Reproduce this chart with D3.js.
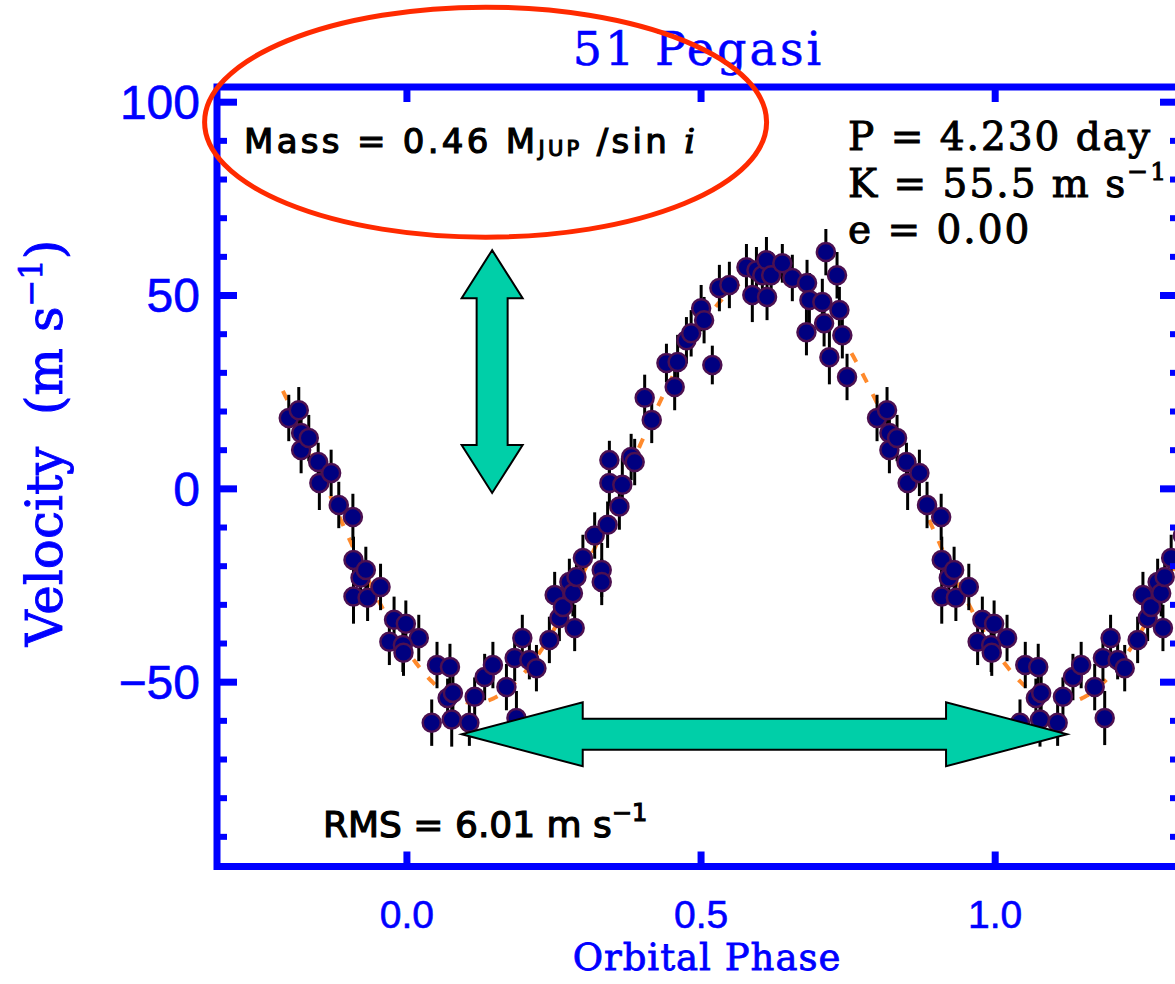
<!DOCTYPE html>
<html>
<head>
<meta charset="utf-8">
<script src="https://cdn.jsdelivr.net/npm/d3@7"></script>
<style>
  html, body { margin: 0; padding: 0; background: #ffffff; }
  svg { display: block; }
</style>
</head>
<body>
<svg id="chart" width="1175" height="984"></svg>
<script>
// 51 Pegasi radial velocities, folded on the orbital period (phase 0..1)
const phase = [
  0.021, 0.043, 0.052, 0.070, 0.074, 0.077, 0.079, 0.107, 0.116, 0.133,
  0.147, 0.170, 0.184, 0.187, 0.197, 0.209, 0.221, 0.243, 0.252, 0.260,
  0.266, 0.277, 0.283, 0.286, 0.289, 0.300, 0.320, 0.332, 0.332, 0.342,
  0.345, 0.345, 0.362, 0.367, 0.382, 0.388, 0.405, 0.417, 0.442, 0.456,
  0.461, 0.476, 0.484, 0.501, 0.506, 0.520, 0.532, 0.549, 0.578, 0.588,
  0.595, 0.605, 0.612, 0.613, 0.620, 0.639, 0.656, 0.680, 0.681, 0.685,
  0.707, 0.710, 0.713, 0.719, 0.732, 0.736, 0.741, 0.749, 0.800, 0.817,
  0.821, 0.821, 0.834, 0.850, 0.852, 0.872, 0.885, 0.909, 0.910, 0.910,
  0.922, 0.931, 0.934, 0.956, 0.971, 0.979, 0.994, 0.995, 0.999
];
const velocity = [
  -38.7, -60.6, -45.7, -54.2, -46.2, -59.8, -52.9, -60.6, -53.9, -48.8,
  -45.7, -51.4, -43.9, -59.4, -38.7, -44.4, -46.5, -39.2, -27.6, -33.5,
  -30.7, -24.2, -27.1, -36.1, -22.9, -18.0, -12.2, -21.1, -24.2, -9.4,
  1.4, 7.3, -4.7, 0.9, 8.1, 6.8, 23.4, 17.7, 32.4, 26.2,
  32.7, 38.3, 40.1, 46.6, 43.5, 31.9, 51.8, 52.6, 57.2, 50.0,
  56.4, 55.1, 59.0, 49.5, 55.1, 58.2, 54.4, 40.4, 53.1, 48.7,
  48.2, 42.7, 61.1, 33.9, 55.1, 46.1, 39.6, 28.8, 18.2, 20.2,
  14.3, 9.9, 13.0, 6.8, 1.4, 4.0, -4.3, -7.4, -18.5, -28.0,
  -23.1, -21.1, -28.3, -25.5, -39.7, -34.0, -40.5, -42.5, -35.0
];
const velErr = [
  6, 6, 6, 5, 6, 7, 6, 6, 5, 6,
  6, 6, 6, 7, 6, 5, 6, 6, 6, 6,
  5, 6, 6, 6, 6, 6, 6, 7, 6, 6,
  6, 5, 6, 7, 6, 6, 6, 6, 5, 6,
  7, 6, 6, 6, 6, 5, 6, 6, 6, 7,
  6, 6, 6, 6, 6, 5, 6, 6, 6, 7,
  6, 6, 6, 7, 6, 6, 6, 6, 6, 6,
  6, 6, 6, 5, 7, 6, 6, 6, 6, 7,
  6, 6, 6, 6, 6, 6, 7, 6, 6
];

// Axis ticks
const xTickValues = [0.0, 0.5, 1.0];
const yTickValues = [-50, 0, 50, 100];
const yMinorTickValues = [-90, -80, -70, -60, -40, -30, -20, -10, 10, 20, 30, 40, 60, 70, 80, 90];

// Orbital solution
const periodDays = 4.230;
const semiAmplitude = 55.5;     // K, m/s
const eccentricity = 0.00;
const peakPhase = 0.615;        // phase of maximum velocity
const residualRms = 6.01;       // m/s
const minMass = 0.46;           // M_JUP / sin i

// Range of phases over which folded copies are drawn
const foldedRange = [-0.21, 1.32];

const BLUE = "#0000ff";
const svg = d3.select("#chart");

const plot = { left: 217, right: 1180, top: 87, bottom: 866.5 };
const x = d3.scaleLinear().domain([-0.322, 1.315]).range([plot.left, plot.right]);
const y = d3.scaleLinear().domain([-97.8, 103.8]).range([plot.bottom, plot.top]);

svg.append("defs").append("clipPath").attr("id", "plotClip")
  .append("rect")
  .attr("x", plot.left).attr("y", plot.top)
  .attr("width", plot.right - plot.left).attr("height", plot.bottom - plot.top);

// Repeat each measurement one cycle earlier/later inside the displayed phase span
const shown = [];
phase.forEach((p, i) => {
  [-1, 0, 1].forEach(k => {
    const ph = p + k;
    if (ph >= foldedRange[0] && ph <= foldedRange[1]) {
      shown.push({ ph, v: velocity[i], e: velErr[i] });
    }
  });
});

const dataG = svg.append("g").attr("clip-path", "url(#plotClip)");

// Circular-orbit model curve from K and the phase of maximum
const model = d3.range(foldedRange[0], foldedRange[1] + 0.0005, 0.002)
  .map(ph => [ph, semiAmplitude * Math.cos(2 * Math.PI * (ph - peakPhase))]);
dataG.append("path")
  .datum(model)
  .attr("fill", "none")
  .attr("stroke", "#ff8a2c")
  .attr("stroke-width", 4)
  .attr("stroke-dasharray", "10 13")
  .attr("d", d3.line().x(d => x(d[0])).y(d => y(d[1])));

// Error bars
dataG.append("g").selectAll("line")
  .data(shown).join("line")
  .attr("x1", d => x(d.ph)).attr("x2", d => x(d.ph))
  .attr("y1", d => y(d.v - d.e)).attr("y2", d => y(d.v + d.e))
  .attr("stroke", "#000000").attr("stroke-width", 3);

// Measurements
dataG.append("g").selectAll("circle")
  .data(shown).join("circle")
  .attr("cx", d => x(d.ph)).attr("cy", d => y(d.v))
  .attr("r", 9)
  .attr("fill", "#000080")
  .attr("stroke", "#4c1050")
  .attr("stroke-width", 2.5);

// Axes
function styleAxis(g, width) {
  g.select(".domain").remove();
  g.selectAll(".tick line").attr("stroke", BLUE).attr("stroke-width", width);
}
const yFmt = d => (d < 0 ? "\u2212" + Math.abs(d) : String(d));

svg.append("g").attr("transform", `translate(${plot.left},0)`)
  .call(d3.axisLeft(y).tickValues(yMinorTickValues).tickSize(-10).tickFormat(""))
  .call(g => styleAxis(g, 6));
svg.append("g").attr("transform", `translate(${plot.left},0)`)
  .call(d3.axisLeft(y).tickValues(yTickValues).tickSize(-20).tickPadding(17).tickFormat(yFmt))
  .call(g => styleAxis(g, 7))
  .call(g => g.selectAll("text")
    .attr("fill", BLUE).attr("dy", "0.35em")
    .attr("stroke", BLUE).attr("stroke-width", 0.6)
    .style("font-family", "'Liberation Sans', Arial, sans-serif")
    .style("font-size", "48px"));

svg.append("g").attr("transform", `translate(${plot.right},0)`)
  .call(d3.axisRight(y).tickValues(yMinorTickValues).tickSize(-10).tickFormat(""))
  .call(g => styleAxis(g, 6));
svg.append("g").attr("transform", `translate(${plot.right},0)`)
  .call(d3.axisRight(y).tickValues(yTickValues).tickSize(-20).tickFormat(""))
  .call(g => styleAxis(g, 7));

svg.append("g").attr("transform", `translate(0,${plot.bottom})`)
  .call(d3.axisBottom(x).tickValues(xTickValues).tickSize(-15).tickPadding(34).tickFormat(d3.format(".1f")))
  .call(g => styleAxis(g, 7))
  .call(g => g.selectAll("text")
    .attr("fill", BLUE)
    .attr("stroke", BLUE).attr("stroke-width", 0.6)
    .style("font-family", "'Liberation Sans', Arial, sans-serif")
    .style("font-size", "39px"));
svg.append("g").attr("transform", `translate(0,${plot.top})`)
  .call(d3.axisTop(x).tickValues(xTickValues).tickSize(-15).tickFormat(""))
  .call(g => styleAxis(g, 7));

svg.append("rect")
  .attr("x", plot.left).attr("y", plot.top)
  .attr("width", plot.right - plot.left).attr("height", plot.bottom - plot.top)
  .attr("fill", "none").attr("stroke", BLUE).attr("stroke-width", 7);

// Titles
svg.append("text")
  .attr("x", (plot.left + plot.right) / 2).attr("y", 65)
  .attr("text-anchor", "middle")
  .attr("fill", BLUE)
  .attr("stroke", BLUE).attr("stroke-width", 0.5)
  .style("font-family", "'DejaVu Serif', serif")
  .style("font-size", "46px")
  .style("letter-spacing", "3px")
  .text("51 Pegasi");

svg.append("text")
  .attr("x", 707).attr("y", 970)
  .attr("text-anchor", "middle")
  .attr("fill", BLUE)
  .attr("stroke", BLUE).attr("stroke-width", 0.8)
  .style("font-family", "'DejaVu Serif', serif")
  .style("font-size", "37px")
  .style("letter-spacing", "1px")
  .text("Orbital Phase");

const yLab = svg.append("text")
  .attr("transform", "translate(62,443) rotate(-90)")
  .attr("text-anchor", "middle")
  .attr("fill", BLUE)
  .attr("stroke", BLUE).attr("stroke-width", 0.9)
  .style("font-family", "'DejaVu Serif', serif")
  .style("font-size", "50px")
  .style("white-space", "pre");
yLab.append("tspan").text("Velocity  (m s");
yLab.append("tspan").attr("dy", -20).style("font-size", "32px").text("\u22121");
yLab.append("tspan").attr("dy", 20).text(")");

// Orbital parameters
const paramFont = "'DejaVu Serif', serif";
const pLines = [
  [`P = ${periodDays.toFixed(3)} day`, null],
  [`K = ${semiAmplitude.toFixed(1)} m s`, "\u22121"],
  [`e = ${eccentricity.toFixed(2)}`, null]
];
pLines.forEach((ln, i) => {
  const t = svg.append("text")
    .attr("x", 848).attr("y", 150 + i * 46.5)
    .attr("fill", "#000000")
    .attr("stroke", "#000000").attr("stroke-width", 1)
    .style("font-family", paramFont)
    .style("font-size", "39px")
    .style("letter-spacing", "2px");
  t.append("tspan").text(ln[0]);
  if (ln[1]) t.append("tspan").attr("dy", -17).style("font-size", "25px").text(ln[1]);
});

const massText = svg.append("text")
  .attr("x", 244).attr("y", 153)
  .attr("fill", "#000000")
  .attr("stroke", "#000000").attr("stroke-width", 1.2)
  .style("font-family", "'DejaVu Sans', sans-serif")
  .style("font-size", "34px")
  .style("letter-spacing", "3.3px")
  .style("white-space", "pre");
massText.append("tspan").text(`Mass = ${minMass.toFixed(2)} M`);
massText.append("tspan").attr("dy", 3).style("font-size", "21px").text("JUP");
massText.append("tspan").attr("dy", -3).text(" /sin ");
massText.append("tspan").style("font-style", "italic").style("font-family", "'DejaVu Serif', serif").text("i");

const rmsText = svg.append("text")
  .attr("x", 323).attr("y", 837)
  .attr("fill", "#000000")
  .attr("stroke", "#000000").attr("stroke-width", 1.2)
  .style("font-family", "'DejaVu Sans', sans-serif")
  .style("font-size", "36px")
  .style("letter-spacing", "0px");
rmsText.append("tspan").text(`RMS = ${residualRms.toFixed(2)} m s`);
rmsText.append("tspan").attr("dy", -16).style("font-size", "24px").text("\u22121");

// Highlight around the mass estimate
svg.append("ellipse")
  .attr("cx", x(0.1346)).attr("cy", y(94.7))
  .attr("rx", 281).attr("ry", 115)
  .attr("fill", "none")
  .attr("stroke", "#ff2a00")
  .attr("stroke-width", 5);

// Double-headed arrows: amplitude and period
function doubleArrow(p1, p2, headLen, headHalf, shaftHalf) {
  const dx = p2[0] - p1[0], dy = p2[1] - p1[1];
  const len = Math.hypot(dx, dy);
  const u = [dx / len, dy / len], n = [-u[1], u[0]];
  const at = (base, along, across) => [
    base[0] + u[0] * along + n[0] * across,
    base[1] + u[1] * along + n[1] * across
  ];
  const pts = [
    p1,
    at(p1, headLen, headHalf), at(p1, headLen, shaftHalf),
    at(p2, -headLen, shaftHalf), at(p2, -headLen, headHalf),
    p2,
    at(p2, -headLen, -headHalf), at(p2, -headLen, -shaftHalf),
    at(p1, headLen, -shaftHalf), at(p1, headLen, -headHalf)
  ];
  svg.append("polygon")
    .attr("points", pts.map(p => p.join(",")).join(" "))
    .attr("fill", "#00cfa8")
    .attr("stroke", "#000000")
    .attr("stroke-width", 2)
    .attr("stroke-linejoin", "miter");
}
doubleArrow([x(0.1457), y(61.6)], [x(0.1457), y(-1.2)], 48, 30.5, 15.5);
doubleArrow([x(0.094), y(-63.6)], [x(1.123), y(-63.6)], 121, 32, 15.5);
</script>
</body>
</html>
